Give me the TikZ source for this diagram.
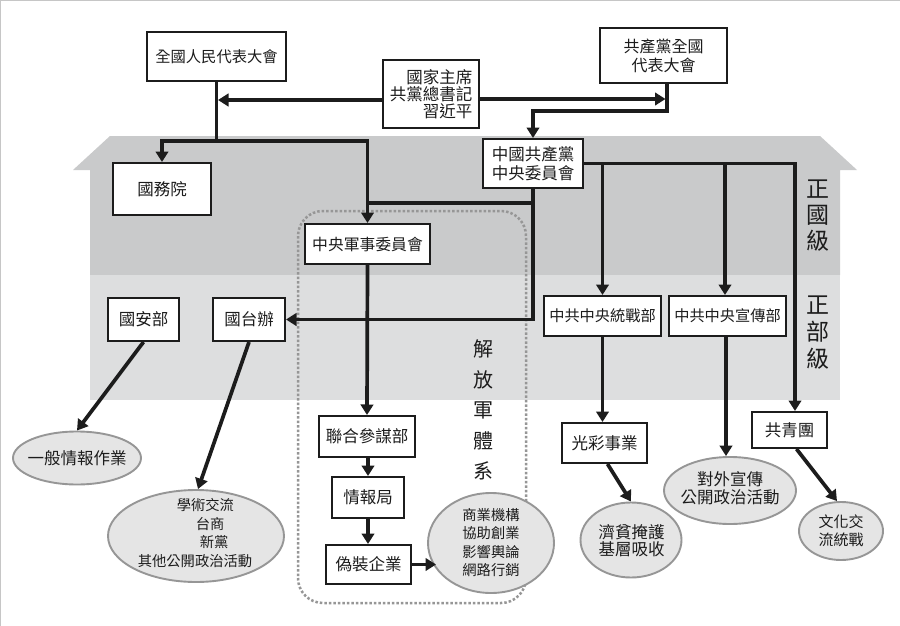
\documentclass[tikz,border=0pt]{standalone}
\usepackage{fontspec}
\setmainfont{Noto Sans CJK TC}
\usetikzlibrary{shapes.geometric,arrows.meta,calc}
\definecolor{bandD}{RGB}{201,202,203}
\definecolor{bandL}{RGB}{221,222,223}
\definecolor{ellF}{RGB}{229,229,229}
\definecolor{ellB}{RGB}{150,150,150}
\definecolor{ink}{RGB}{28,28,28}
\tikzset{
  box/.style={draw=ink, line width=2pt, fill=white, inner sep=0pt, text=ink,
    font=\fontsize{16.5}{18}\selectfont, align=center},
  ell/.style={ellipse, draw=ellB, line width=1.9pt, fill=ellF, inner sep=0pt},
  etext/.style={text=ink, align=center, inner sep=0pt},
  conn/.style={line width=3.7pt, draw=ink},
  arr/.style={conn, -{Triangle[length=10.5pt,width=12.5pt]}},
  vlab/.style={text=ink, align=center, inner sep=0pt}
}
\begin{document}
\begin{tikzpicture}[x=1pt,y=-1pt]
\useasboundingbox (0,0) rectangle (900,626);
\fill[white] (0,0) rectangle (900,626);
\draw[gray!45, line width=1pt] (0.5,626) -- (0.5,0.5) -- (900,0.5);
% bands
\fill[bandD] (73,170) -- (110,136) -- (820,136) -- (857,170) -- (840,170) -- (840,275) -- (90,275) -- (90,170) -- cycle;
\fill[bandL] (90,275) rectangle (840,400);
% PLA dotted frame
\draw[ellB, line width=2.5pt, dash pattern=on 2.5pt off 2pt, rounded corners=25pt] (298,211) rectangle (526,603);
% level labels
\node[vlab, font=\fontsize{23}{26}\selectfont] (lv1) at (817.5,216) {正\\國\\級};
\node[vlab, font=\fontsize{23}{27}\selectfont] (lv2) at (817.5,333) {正\\部\\級};
\node[vlab, font=\fontsize{20}{30.5}\selectfont] (pla) at (483,410) {解\\放\\軍\\體\\系};
% boxes
\node[box, minimum width=139pt, minimum height=49pt, font=\fontsize{15.3}{18}\selectfont] (npc) at (216.5,56.5) {全國人民代表大會};
\node[box, minimum width=96pt, minimum height=68pt, align=right, font=\fontsize{16.5}{17}\selectfont] (xi) at (431,94) {國家主席\\共黨總書記\\習近平};
\node[box, minimum width=127pt, minimum height=55pt, font=\fontsize{16}{19}\selectfont] (cpcnc) at (663.5,55.5) {共產黨全國\\代表大會};
\node[box, minimum width=100pt, minimum height=49pt, font=\fontsize{16.5}{19}\selectfont] (cc) at (533,163.5) {中國共產黨\\中央委員會};
\node[box, minimum width=98pt, minimum height=52pt] (sc) at (162,189) {國務院};
\node[box, minimum width=125pt, minimum height=40pt, font=\fontsize{15.8}{18}\selectfont] (cmc) at (367.5,244) {中央軍事委員會};
\node[box, minimum width=71pt, minimum height=43pt] (mss) at (143.5,319.5) {國安部};
\node[box, minimum width=72pt, minimum height=43pt] (tao) at (249,319.5) {國台辦};
\node[box, minimum width=117pt, minimum height=40pt, font=\fontsize{15.2}{18}\selectfont] (ufwd) at (602.5,316) {中共中央統戰部};
\node[box, minimum width=117pt, minimum height=40pt, font=\fontsize{15.2}{18}\selectfont] (prop) at (727.5,316) {中共中央宣傳部};
\node[box, minimum width=96pt, minimum height=41pt] (js) at (367,436.5) {聯合參謀部};
\node[box, minimum width=72pt, minimum height=41pt] (ib) at (368,497.5) {情報局};
\node[box, minimum width=85pt, minimum height=39pt] (cov) at (368.5,564.5) {偽裝企業};
\node[box, minimum width=85pt, minimum height=40pt] (gc) at (604.5,443) {光彩事業};
\node[box, minimum width=75pt, minimum height=36pt] (cyl) at (789.5,430) {共青團};
% ellipses
\node[ell, minimum width=128pt, minimum height=53pt] (e1) at (77,458) {};
\node[etext, font=\fontsize{16.5}{20}\selectfont] (t1) at (e1.center) {一般情報作業};
\node[ell, minimum width=176pt, minimum height=92pt] (e2) at (196,536) {};
\node[etext, align=left, font=\fontsize{14.3}{18.5}\selectfont] (t2) at (195,533) {\hspace*{39pt}學術交流\\\hspace*{58pt}台商\\\hspace*{62pt}新黨\\其他公開政治活動};
\node[ell, minimum width=126pt, minimum height=100pt] (e3) at (491,543) {};
\node[etext, font=\fontsize{14.3}{18.5}\selectfont] (t3) at (491,542.5) {商業機構\\協助創業\\影響輿論\\網路行銷};
\node[ell, minimum width=101pt, minimum height=75pt] (e4) at (631,540) {};
\node[etext, font=\fontsize{16.5}{17.5}\selectfont] (t4) at (631.5,540.5) {濟貧掩護\\基層吸收};
\node[ell, minimum width=132pt, minimum height=67pt] (e5) at (730,490.5) {};
\node[etext, font=\fontsize{16.5}{18}\selectfont] (t5) at (730,488) {對外宣傳\\公開政治活動};
\node[ell, minimum width=84pt, minimum height=58pt] (e6) at (841,531) {};
\node[etext, font=\fontsize{15}{18}\selectfont] (t6) at (841,531) {文化交\\流統戰};
% connectors
\coordinate (j1) at (npc.south |- 0,141);
\draw[conn] (npc.south) -- (j1);
\draw[arr] (j1) -| (sc.north);
\draw[arr] (j1) -| (cmc.north);
\draw[arr, shorten >=1.5pt] ([yshift=-6pt]xi.west) -- ([yshift=-6pt]xi.west -| npc.south);
\coordinate (j2) at ([xshift=3.5pt]cpcnc.south);
\draw[arr, shorten >=1.5pt] ([yshift=-5pt]xi.east) -- ([yshift=-5pt]xi.east -| j2);
\draw[arr] (j2) -- ++(0,27) -| (cc.north);
\draw[arr] (cc.east) -| ([xshift=5.5pt]cyl.north);
\draw[arr] (cc.east -| ufwd.north) -- (ufwd.north);
\draw[arr] ([xshift=-2.5pt]cc.east -| prop.north) -- ([xshift=-2.5pt]prop.north);
\draw[arr] (cc.south) |- (tao.east);
\draw[conn] ([yshift=-14pt]cc.south) -- ([yshift=-14pt]cc.south -| cmc.north);
\draw[arr] (cmc.south) -- (js.north);
\draw[arr] (js.south -| ib.north) -- (ib.north);
\draw[arr] (ib.south) -- (cov.north -| ib.south);
\draw[arr] (cov.east) -- ++(24,0);
\draw[arr] (mss.south) -- (e1.north);
\draw[arr] (tao.south) -- ([xshift=2pt]e2.north);
\draw[arr] (ufwd.south) -- (ufwd.south |- gc.north);
\draw[arr] ([xshift=3pt]gc.south) -- (e4.north);
\draw[arr] ([xshift=-1.5pt]prop.south) -- ([xshift=-1.5pt]prop.south |- e5.north);
\draw[arr] ([xshift=7pt]cyl.south) -- ([xshift=-4pt]e6.north);
\end{tikzpicture}
\end{document}
